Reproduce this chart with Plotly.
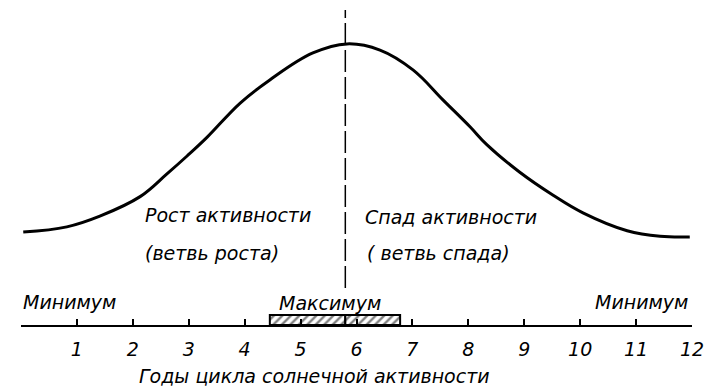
import plotly.graph_objects as go

# Solar cycle curve (years of cycle vs relative activity, arbitrary units)
years = [0.04, 0.82, 1.41, 2.13, 2.61, 2.97, 3.33, 3.92, 4.45, 5.22, 5.83,
         6.42, 7.01, 7.55, 8.03, 8.33, 8.92, 9.51, 10.05, 10.84, 11.43, 11.96]
activity = [28.6, 30.2, 33.5, 39.5, 46.5, 52.0, 57.8, 68.3, 75.4, 83.7, 86.5,
            84.6, 78.5, 69.2, 61.0, 55.5, 47.0, 40.0, 34.5, 29.0, 27.3, 27.1]

peak_year = 5.8
dash_span = [11.4, 96.9]
max_period = [4.45, 6.78]
max_bar_height = 3.1

tick_years = list(range(0, 13))
tick_labels = [""] + [str(i) for i in range(1, 13)]

FONT = "DejaVu Sans"
TXT = dict(family=FONT, size=19, color="black", style="italic")

fig = go.Figure()

fig.add_trace(go.Scatter(
    x=years, y=activity, mode="lines",
    line=dict(color="black", width=3, shape="spline", smoothing=1.1),
    hoverinfo="skip"))

fig.add_trace(go.Scatter(
    x=[peak_year, peak_year], y=dash_span, mode="lines",
    line=dict(color="black", width=1.5, dash="22px,5px"),
    hoverinfo="skip"))

# hatched maximum period rectangles
for x0, x1 in [(max_period[0], peak_year), (peak_year, max_period[1])]:
    fig.add_trace(go.Scatter(
        x=[x0, x1, x1, x0, x0], y=[0, 0, max_bar_height, max_bar_height, 0],
        mode="lines", fill="toself", fillcolor="white",
        fillpattern=dict(shape="/", fgcolor="black", bgcolor="white", size=6, solidity=0.4),
        line=dict(color="black", width=2), hoverinfo="skip"))

labels = [
    ("Рост активности", 2.18, 33.8, "left"),
    ("(ветвь роста)", 2.18, 22.2, "left"),
    ("Спад активности", 6.12, 33.2, "left"),
    ("( ветвь спада)", 6.15, 22.2, "left"),
    ("Минимум", 0.0, 7.1, "left"),
    ("Максимум", 4.58, 6.8, "left"),
    ("Минимум", 11.96, 7.1, "right"),
]
for t, x, y, anc in labels:
    fig.add_annotation(x=x, y=y, text=t, showarrow=False, xanchor=anc,
                       yanchor="middle", font=TXT)

fig.add_annotation(x=0.438, y=-0.158, xref="paper", yref="paper",
                   text="Годы цикла солнечной активности", showarrow=False,
                   xanchor="center", yanchor="middle", font=TXT)

fig.update_xaxes(range=[0, 12], tickvals=tick_years, ticktext=tick_labels,
                 showline=True, linecolor="black", linewidth=2,
                 ticks="inside", ticklen=6, tickwidth=1.5, tickcolor="black",
                 ticklabelstandoff=6,
                 showgrid=False, zeroline=False, tickfont=TXT)
fig.update_yaxes(range=[0, 100], visible=False, showgrid=False, zeroline=False)

fig.update_layout(width=710, height=390, showlegend=False,
                  margin=dict(l=21, r=18, t=0, b=65),
                  plot_bgcolor="white", paper_bgcolor="white")

fig.write_html("out.html", config={"displayModeBar": False},
               post_script="document.body.style.margin='0px';")
